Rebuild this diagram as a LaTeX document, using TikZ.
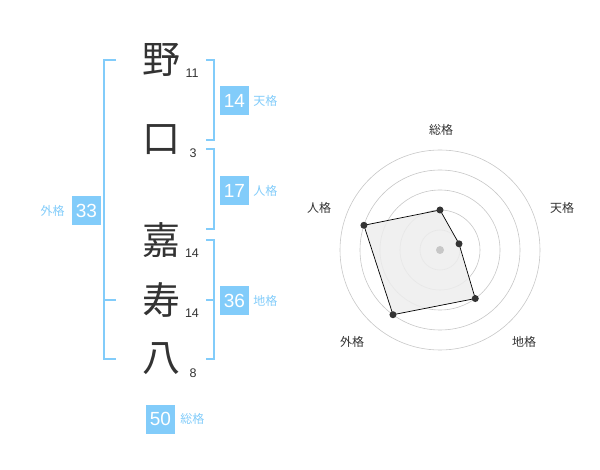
\documentclass[tikz,border=0pt]{standalone}
\usepackage{fontspec}
\setmainfont{Liberation Sans}
\newfontfamily\jpfont{Noto Sans CJK JP}
\usepackage{tikz}
\usetikzlibrary{positioning}
\definecolor{kakublue}{RGB}{130,204,250}
\definecolor{kanjigray}{RGB}{51,51,51}

\begin{document}
\begin{tikzpicture}[
		x=1pt, y=-1pt,
		kanji/.style={font=\jpfont\fontsize{38}{38}\selectfont, text=kanjigray, inner sep=0pt},
		kakusu/.style={font=\fontsize{12.5}{12.5}\selectfont, text=kanjigray, inner sep=0pt},
		kakubox/.style={fill=kakublue, text=white, font=\fontsize{19}{19}\selectfont, minimum size=29pt, inner sep=0pt},
		kakulabel/.style={font=\jpfont\fontsize{12}{12}\selectfont, text=kakublue, inner sep=0pt},
		axislabel/.style={font=\jpfont\fontsize{12}{12}\selectfont, text=kanjigray, inner sep=0pt},
		bracket/.style={draw=kakublue, line width=1.6pt},
		ring/.style={draw=black!22, line width=0.6pt},
		dot/.style={circle, fill=kanjigray, inner sep=0pt, minimum size=7pt}
		]
		\useasboundingbox (0,0) rectangle (600,470);
		
		% Draw name
		\node[kanji] (k1) at (161,60) {野};
		\node[kanji] (k2) at (161,140) {口};
		\node[kanji] (k3) at (161,240) {嘉};
		\node[kanji] (k4) at (161,300) {寿};
		\node[kanji] (k5) at (161,359) {八};
		
		% Draw stroke counts
		\node[kakusu] (n1) at (192,73) {11};
		\node[kakusu] (n2) at (193,153) {3};
		\node[kakusu] (n3) at (192,253) {14};
		\node[kakusu] (n4) at (192,313) {14};
		\node[kakusu] (n5) at (193,373) {8};
		
		% Draw brackets
		\draw[bracket] (206,60) -| (214,140) -- (206,140);
		\draw[bracket] (206,149) -| (214,229) -- (206,229);
		\draw[bracket] (206,240) -| (214,359) -- (206,359);
		\draw[bracket] (206,300) -- (214,300);
		\draw[bracket] (116,60) -| (104,359) -- (116,359);
		\draw[bracket] (104,300) -- (116,300);
		
		% Draw scores
		\node[kakubox] (ten) at (234.5,100.5) {14};
		\node[kakulabel, right=4pt of ten] (tenlabel) {天格};
		\node[kakubox] (jin) at (234.5,190.5) {17};
		\node[kakulabel, right=4pt of jin] (jinlabel) {人格};
		\node[kakubox] (chi) at (234.5,300.5) {36};
		\node[kakulabel, right=4pt of chi] (chilabel) {地格};
		\node[kakubox] (gai) at (86.5,210.5) {33};
		\node[kakulabel, left=7pt of gai] (gailabel) {外格};
		\node[kakubox] (sou) at (160.5,419) {50};
		\node[kakulabel, right=5pt of sou] (soulabel) {総格};
		
		% Draw radar chart
		\begin{scope}[shift={(440,250)}, y=1pt]
		\foreach \r in {20,40,...,100}
			\draw[ring] (0,0) circle (\r);
		\draw[fill=black!7, fill opacity=0.85, line width=0.7pt]
		(90:40) coordinate (p1) -- (18:20) coordinate (p2) -- (-54:60) coordinate (p3)
		-- (-126:80) coordinate (p4) -- (162:80) coordinate (p5) -- cycle;
		\fill[black!22] (0,0) circle (4);
		\foreach \p in {p1,p2,p3,p4,p5}
			\node[dot] (d\p) at (\p) {};
		\end{scope}
		
		\node[axislabel] (asou) at (441,130) {総格};
		\node[axislabel] (aten) at (562,208) {天格};
		\node[axislabel] (achi) at (524,342) {地格};
		\node[axislabel] (agai) at (352,342) {外格};
		\node[axislabel] (ajin) at (319,208) {人格};
\end{tikzpicture}
\end{document}
